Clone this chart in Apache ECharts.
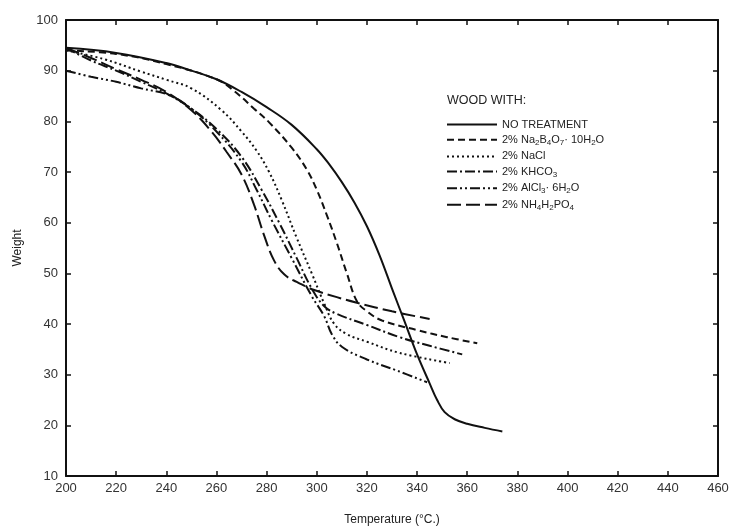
<!DOCTYPE html>
<html><head><meta charset="utf-8">
<script src="https://cdn.jsdelivr.net/npm/echarts@6/dist/echarts.min.js"></script>
<style>html,body{margin:0;padding:0;background:#fff}#c{width:735px;height:528px}</style>
</head><body><div id="c"></div>
<script>
const xTicks = [200,220,240,260,280,300,320,340,360,380,400,420,440,460];
const yTicks = [10,20,30,40,50,60,70,80,90,100];
const seriesNames = ['NO TREATMENT','2% Na2B4O7·10H2O','2% NaCl','2% KHCO3','2% AlCl3·6H2O','2% NH4H2PO4'];
const legendLabels = ['NO TREATMENT','2% Na{s|2}B{s|4}O{s|7}· 10H{s|2}O','2% NaCl','2% KHCO{s|3}','2% AlCl{s|3}· 6H{s|2}O','2% NH{s|4}H{s|2}PO{s|4}'];
const noTreatment = [[200,94.5],[220,93.5],[240,91.5],[250,90],[260,88.3],[270,85.8],[280,82.8],[290,79.3],[300,74.5],[305,71.5],[310,68],[315,64],[320,59.3],[325,53.6],[330,47],[335,40.5],[340,34],[345,28.3],[348,25],[351,22.6],[355,21.2],[360,20.3],[367,19.5],[374,18.8]];
const borax = [[200,94],[220,93.3],[240,91.3],[260,88.3],[267,86],[275,82.5],[281,79.8],[290,74.8],[296,70.5],[300,66.5],[304,61.5],[308,56],[312,50],[316,44.5],[320,42.5],[326,40.7],[340,38.8],[352,37.4],[364,36.2]];
const nacl = [[200,94],[215,92.3],[230,89.8],[240,88.2],[250,86.5],[262,82.2],[270,78],[276,74.2],[281,70],[286,64.5],[292,57],[298,50],[303,44],[307,40],[312,38],[320,36.5],[333,34.3],[353,32.3]];
const khco3 = [[200,94.5],[210,92],[220,90],[230,87.8],[240,85.5],[250,82.5],[260,78.5],[270,73],[278,66.5],[285,60],[292,53],[298,47],[303,43.5],[308,42],[320,39.8],[333,37.4],[345,35.7],[358,34]];
const alcl3 = [[200,90],[210,88.8],[220,87.8],[230,86.5],[241,85.2],[250,82.5],[260,78],[270,72],[276,66.5],[282,60.5],[290,53],[298,45.5],[303,41.5],[306,38],[310,35.5],[320,33],[332,30.8],[344,28.5]];
const nh4 = [[200,94.5],[210,92.5],[220,90.3],[230,88.2],[240,85.8],[250,82.2],[258,78],[264,74],[270,69.5],[275,63.5],[279,57.5],[283,52.5],[287,49.8],[292,48.3],[299,46.7],[308,45.3],[316,44.2],[330,42.5],[345,41]];
const seriesData = [noTreatment, borax, nacl, khco3, alcl3, nh4];
const dashes = ['solid',[7,4],[2,3],[10,3,2,3],[10,3,2,3,2,3],[14,5]];

const chart = echarts.init(document.getElementById('c'));
const FONT = '"Liberation Sans", Arial, sans-serif';
const axisCommon = {
  axisLine:{show:true,lineStyle:{color:'#111',width:2}},
  axisTick:{show:true,inside:true,length:5,lineStyle:{color:'#111',width:1.5}},
  splitLine:{show:false}
};
chart.setOption({
  animation:false,
  backgroundColor:'#fff',
  grid:{left:66,right:17,top:20,bottom:52,outerBoundsMode:'none'},
  graphic:[{type:'text',left:447,top:94,style:{text:'WOOD WITH:',font:'12.5px '+FONT,fill:'#222'}}],
  legend:{
    orient:'vertical',left:441,top:114,itemWidth:50,itemHeight:14,itemGap:4,
    data:seriesNames,
    itemStyle:{opacity:0},
    formatter:function(name){return legendLabels[seriesNames.indexOf(name)];},
    textStyle:{fontFamily:FONT,fontSize:11,color:'#222',
      rich:{s:{fontSize:8,padding:[6,0,0,0],fontFamily:FONT,color:'#222'}}}
  },
  xAxis:[Object.assign({type:'value',min:200,max:460,interval:20,position:'bottom',
    name:'Temperature (°C.)',nameLocation:'middle',nameGap:38,
    nameTextStyle:{fontFamily:FONT,fontSize:12,color:'#222'},
    axisLabel:{fontFamily:FONT,fontSize:13,color:'#333',margin:6,
      formatter:function(v){return xTicks.indexOf(v)>=0?String(v):'';}}},axisCommon),
    Object.assign({type:'value',min:200,max:460,interval:20,position:'top',axisLabel:{show:false}},axisCommon)],
  yAxis:[Object.assign({type:'value',min:10,max:100,interval:10,position:'left',
    name:'Weight',nameLocation:'middle',nameGap:42,
    nameTextStyle:{fontFamily:FONT,fontSize:12,color:'#222'},
    axisLabel:{fontFamily:FONT,fontSize:13,color:'#333',margin:8,
      formatter:function(v){return yTicks.indexOf(v)>=0?String(v):'';}}},axisCommon),
    Object.assign({type:'value',min:10,max:100,interval:10,position:'right',axisLabel:{show:false}},axisCommon)],
  series:seriesNames.map(function(n,i){return {
    name:n,type:'line',data:seriesData[i],smooth:0.4,symbol:'none',showSymbol:false,
    lineStyle:{color:'#111',width:2,type:dashes[i]},itemStyle:{color:'#111'}
  };})
});
</script></body></html>
